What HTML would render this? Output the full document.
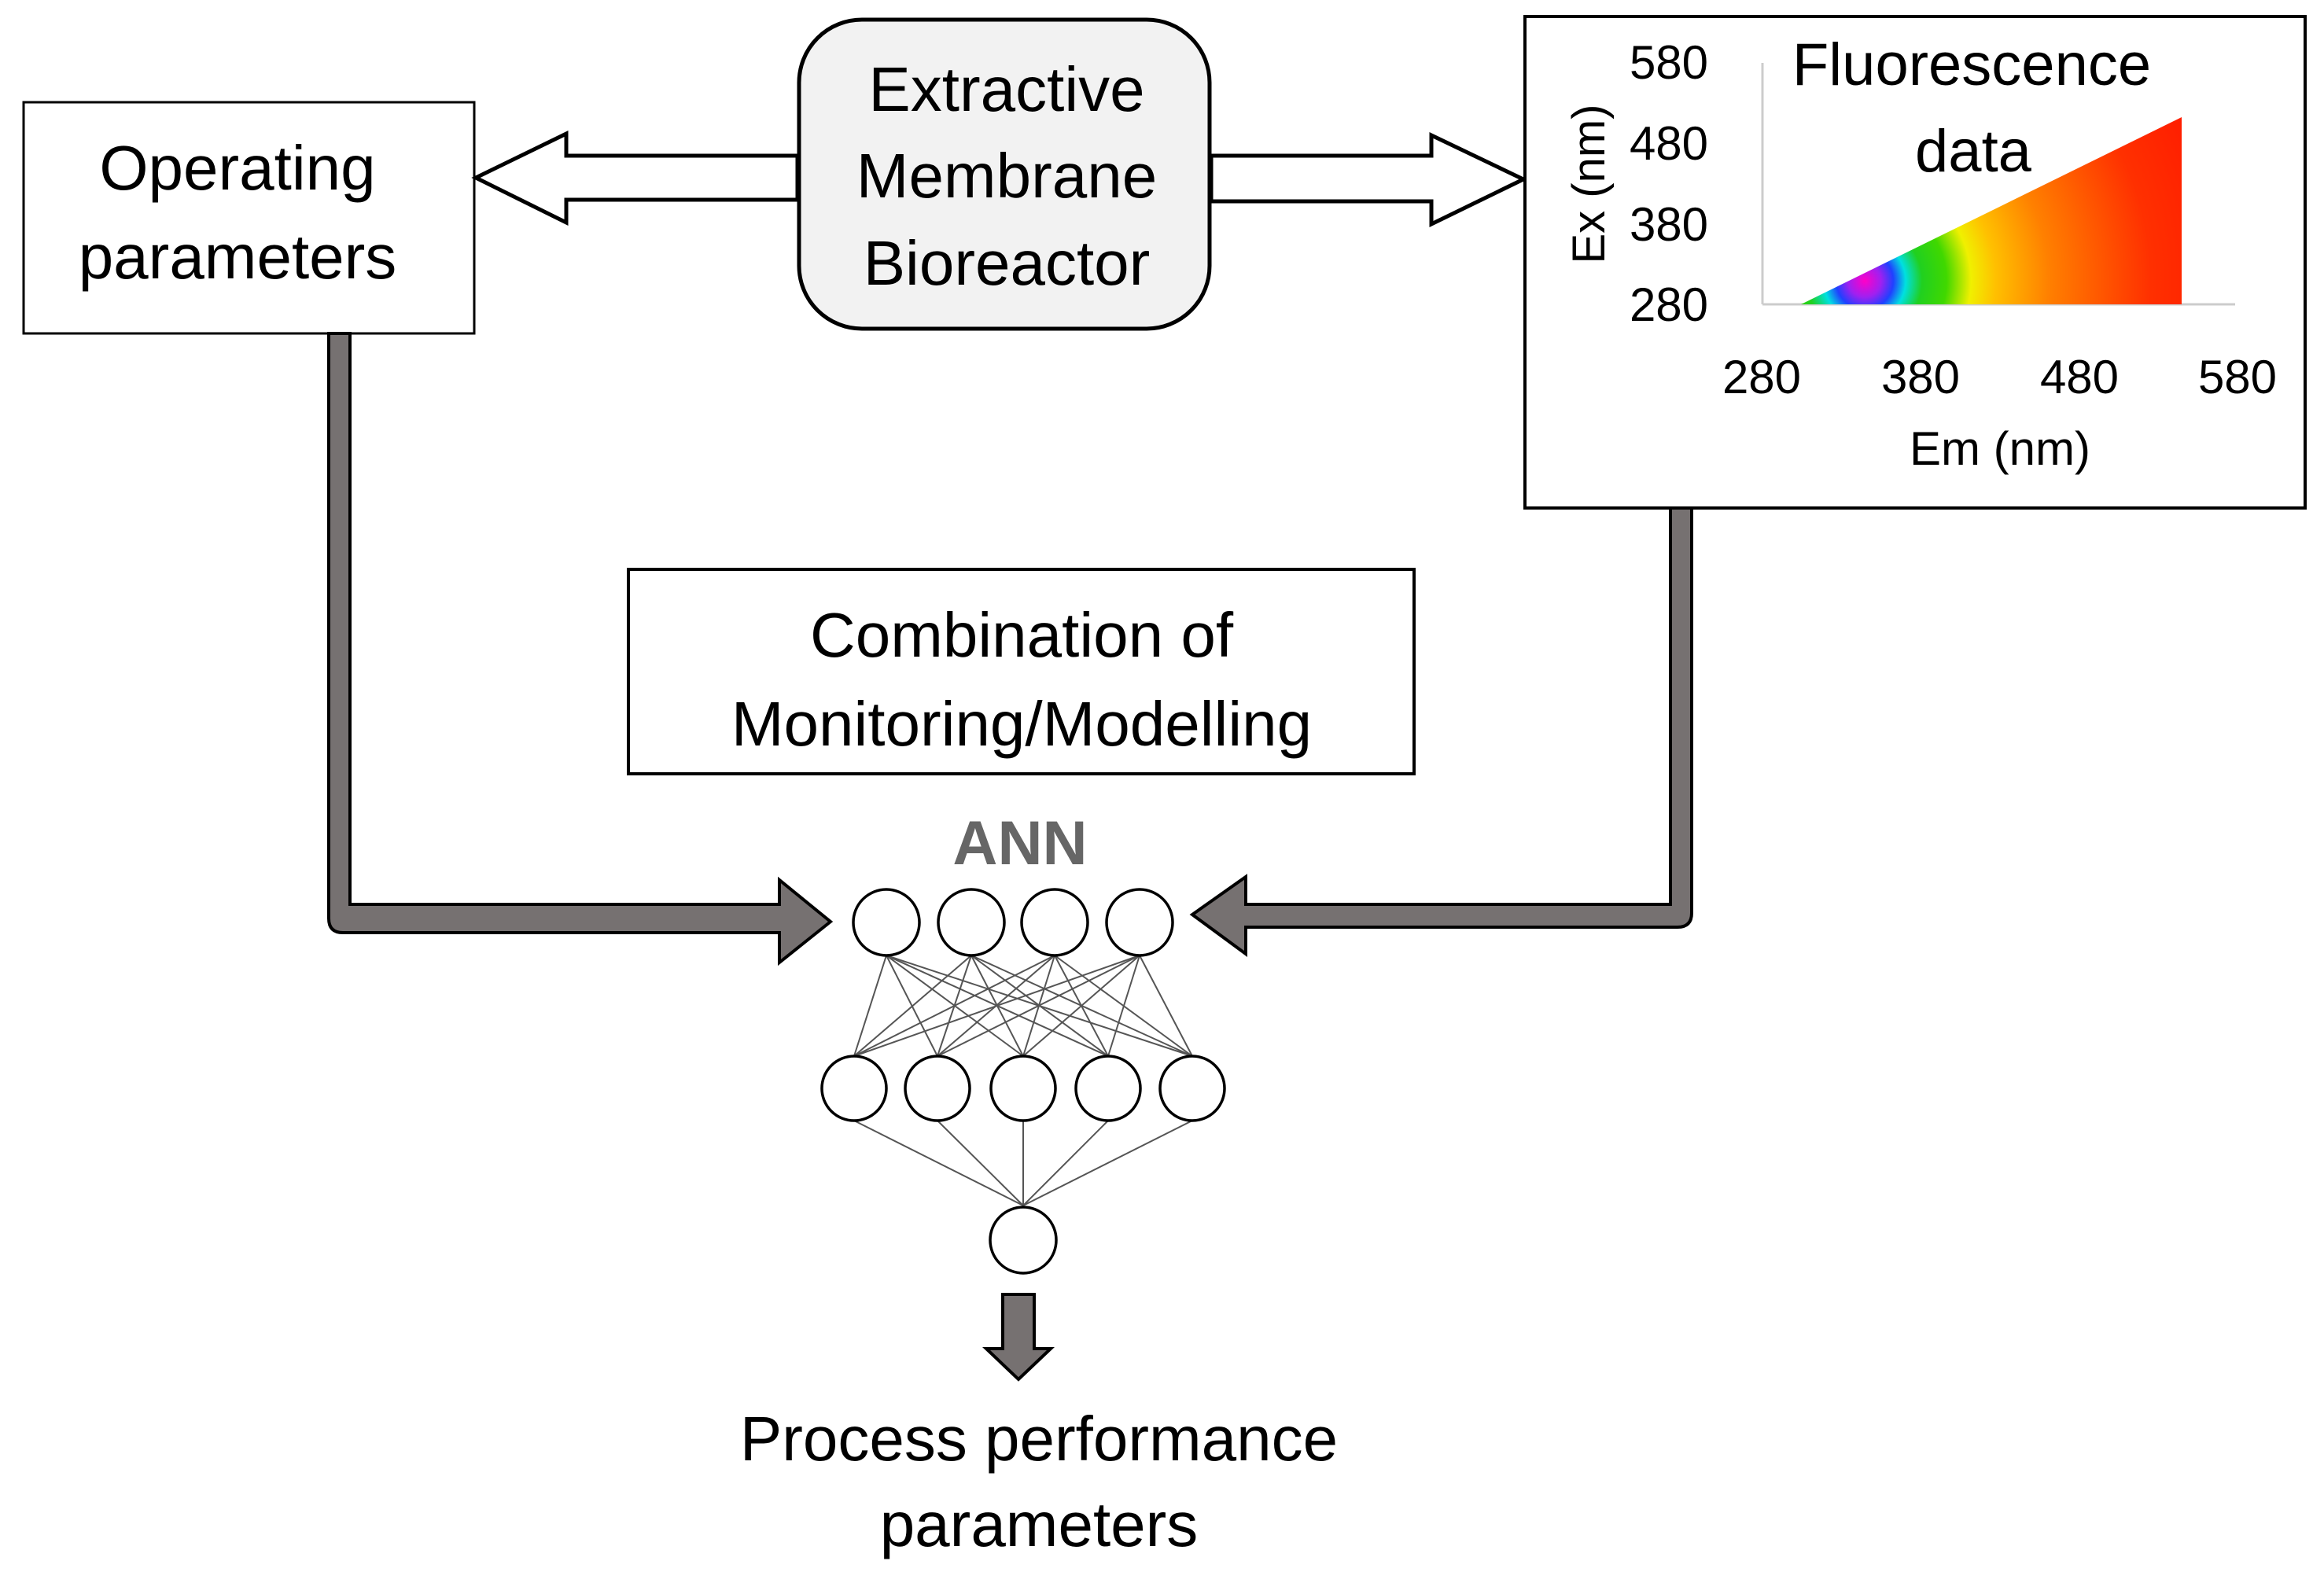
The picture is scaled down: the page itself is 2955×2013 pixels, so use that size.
<!DOCTYPE html>
<html><head><style>html,body{margin:0;padding:0;background:#fff;}svg{display:block}</style></head>
<body>
<svg width="2955" height="2013" viewBox="0 0 2955 2013" xmlns="http://www.w3.org/2000/svg" font-family="'Liberation Sans', sans-serif">
<defs>
<clipPath id="tri"><polygon points="2290,387 2774,387 2774,149"/></clipPath>
<radialGradient id="rg" cx="2371" cy="357" r="520" gradientUnits="userSpaceOnUse">
<stop offset="0" stop-color="#ff00c8"/>
<stop offset="0.04" stop-color="#a020f0"/>
<stop offset="0.07" stop-color="#2040ff"/>
<stop offset="0.10" stop-color="#00e0e0"/>
<stop offset="0.14" stop-color="#20d020"/>
<stop offset="0.20" stop-color="#40d800"/>
<stop offset="0.26" stop-color="#f0f000"/>
<stop offset="0.32" stop-color="#ffc000"/>
<stop offset="0.45" stop-color="#ff8000"/>
<stop offset="0.7" stop-color="#ff3000"/>
<stop offset="1" stop-color="#ff1000"/>
</radialGradient>
</defs>
<rect x="30" y="130" width="573" height="294" fill="#fff" stroke="#000" stroke-width="3"/>
<text x="302" y="241" font-size="80" text-anchor="middle">Operating</text>
<text x="302" y="354" font-size="80" text-anchor="middle">parameters</text>
<rect x="1016" y="25" width="522" height="393" rx="80" fill="#f2f2f2" stroke="#000" stroke-width="5"/>
<text x="1280" y="141" font-size="80" text-anchor="middle">Extractive</text>
<text x="1280" y="251" font-size="80" text-anchor="middle">Membrane</text>
<text x="1280" y="362" font-size="80" text-anchor="middle">Bioreactor</text>
<polygon points="1014,198 720,198 720,170 605,226 720,283 720,254 1014,254" fill="#fff" stroke="#000" stroke-width="5"/>
<polygon points="1540,198 1820,198 1820,172 1937,228 1820,285 1820,256 1540,256" fill="#fff" stroke="#000" stroke-width="5"/>
<rect x="1939" y="21" width="992" height="625" fill="#fff" stroke="#000" stroke-width="4"/>
<line x1="2241" y1="80" x2="2241" y2="387" stroke="#ccc" stroke-width="3"/>
<line x1="2241" y1="387" x2="2842" y2="387" stroke="#ccc" stroke-width="3"/>
<g clip-path="url(#tri)"><rect x="2280" y="140" width="500" height="250" fill="url(#rg)"/></g>
<text x="2507" y="108" font-size="76" text-anchor="middle">Fluorescence</text>
<text x="2509" y="218" font-size="76" text-anchor="middle">data</text>
<g font-size="60" text-anchor="middle">
<text x="2122" y="100">580</text><text x="2122" y="203">480</text><text x="2122" y="306">380</text><text x="2122" y="408">280</text>
<text x="2240" y="500">280</text><text x="2442" y="500">380</text><text x="2644" y="500">480</text><text x="2845" y="500">580</text>
<text x="2543" y="591">Em (nm)</text>
<text transform="translate(2040,234) rotate(-90)" text-anchor="middle" font-size="58">Ex (nm)</text>
</g>
<rect x="799" y="724" width="999" height="260" fill="#fff" stroke="#000" stroke-width="4"/>
<text x="1299" y="835" font-size="80" text-anchor="middle">Combination of</text>
<text x="1299" y="948" font-size="80" text-anchor="middle">Monitoring/Modelling</text>
<path d="M418,424 L418,1168 Q418,1186 436,1186 L991,1186 L991,1224 L1056,1172 L991,1119 L991,1150 L445,1150 L445,424 Z" fill="#767171" stroke="#000" stroke-width="4"/>
<path d="M2151,646 L2151,1161 Q2151,1179 2133,1179 L1584,1179 L1584,1213 L1516,1163 L1584,1115 L1584,1150 L2124,1150 L2124,646 Z" fill="#767171" stroke="#000" stroke-width="4"/>
<text x="1297" y="1099" font-size="79" font-weight="bold" fill="#666" text-anchor="middle">ANN</text>
<g stroke="#555" stroke-width="2">
<line x1="1127" y1="1215" x2="1086" y2="1343"/><line x1="1127" y1="1215" x2="1192" y2="1343"/><line x1="1127" y1="1215" x2="1301" y2="1343"/><line x1="1127" y1="1215" x2="1409" y2="1343"/><line x1="1127" y1="1215" x2="1516" y2="1343"/>
<line x1="1235" y1="1215" x2="1086" y2="1343"/><line x1="1235" y1="1215" x2="1192" y2="1343"/><line x1="1235" y1="1215" x2="1301" y2="1343"/><line x1="1235" y1="1215" x2="1409" y2="1343"/><line x1="1235" y1="1215" x2="1516" y2="1343"/>
<line x1="1341" y1="1215" x2="1086" y2="1343"/><line x1="1341" y1="1215" x2="1192" y2="1343"/><line x1="1341" y1="1215" x2="1301" y2="1343"/><line x1="1341" y1="1215" x2="1409" y2="1343"/><line x1="1341" y1="1215" x2="1516" y2="1343"/>
<line x1="1449" y1="1215" x2="1086" y2="1343"/><line x1="1449" y1="1215" x2="1192" y2="1343"/><line x1="1449" y1="1215" x2="1301" y2="1343"/><line x1="1449" y1="1215" x2="1409" y2="1343"/><line x1="1449" y1="1215" x2="1516" y2="1343"/>
<line x1="1086" y1="1425" x2="1301" y2="1533"/><line x1="1192" y1="1425" x2="1301" y2="1533"/><line x1="1301" y1="1425" x2="1301" y2="1533"/><line x1="1409" y1="1425" x2="1301" y2="1533"/><line x1="1516" y1="1425" x2="1301" y2="1533"/>
</g>
<g fill="#fff" stroke="#000" stroke-width="3.5">
<ellipse cx="1127" cy="1173" rx="42" ry="42"/><ellipse cx="1235" cy="1173" rx="42" ry="42"/><ellipse cx="1341" cy="1173" rx="42" ry="42"/><ellipse cx="1449" cy="1173" rx="42" ry="42"/>
<ellipse cx="1086" cy="1384" rx="41" ry="41"/><ellipse cx="1192" cy="1384" rx="41" ry="41"/><ellipse cx="1301" cy="1384" rx="41" ry="41"/><ellipse cx="1409" cy="1384" rx="41" ry="41"/><ellipse cx="1516" cy="1384" rx="41" ry="41"/>
<ellipse cx="1301" cy="1577" rx="42" ry="42"/>
</g>
<polygon points="1275,1646 1315,1646 1315,1715 1336,1715 1295,1754 1254,1715 1275,1715" fill="#767171" stroke="#000" stroke-width="4"/>
<text x="1321" y="1857" font-size="80" text-anchor="middle">Process performance</text>
<text x="1321" y="1966" font-size="80" text-anchor="middle">parameters</text>
</svg>
</body></html>
